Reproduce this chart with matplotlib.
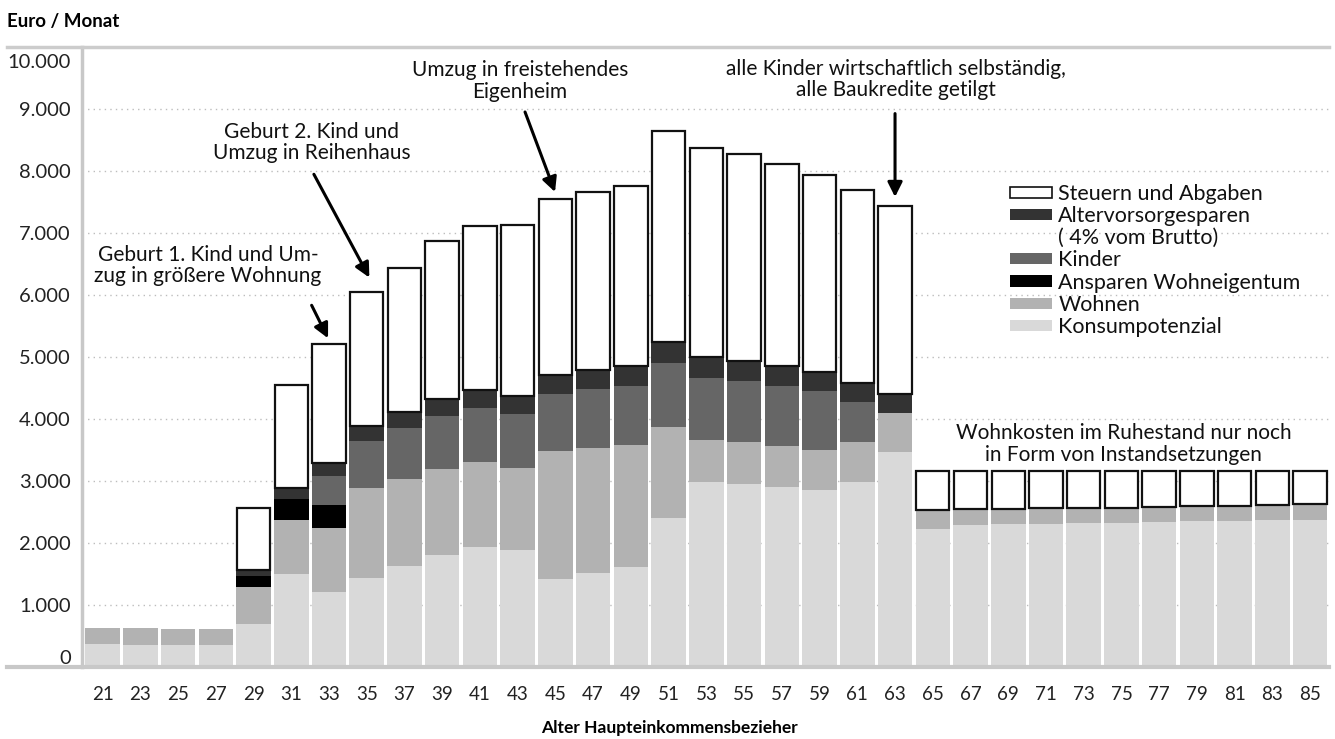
import matplotlib
matplotlib.use("Agg")
import matplotlib.pyplot as plt
from matplotlib.patches import Patch
import numpy as np

plt.rcParams['font.family'] = ['Lato', 'DejaVu Sans']

ages = list(range(21, 86, 2))

# Euro / Monat, Segmente von unten nach oben
konsum = [366, 350, 350, 350, 689, 1500, 1205, 1431, 1634, 1811, 1940, 1892, 1424, 1521, 1618, 2408,
          2989, 2955, 2901, 2854, 2982, 3468, 2226, 2285, 2301, 2301, 2317, 2317, 2333, 2349, 2349, 2366, 2366]
wohnen = [258, 274, 258, 258, 596, 866, 1032, 1451, 1403, 1388, 1371, 1323, 2065, 2016, 1968, 1468,
          677, 673, 660, 643, 644, 631, 312, 263, 253, 264, 248, 253, 248, 242, 253, 247, 258]
ansparen = [0, 0, 0, 0, 178, 339, 371, 0, 0, 0, 0, 0, 0, 0, 0, 0,
            0, 0, 0, 0, 0, 0, 0, 0, 0, 0, 0, 0, 0, 0, 0, 0, 0]
kinder = [0, 0, 0, 0, 0, 0, 468, 758, 812, 854, 871, 871, 919, 952, 951, 1032,
          1000, 982, 965, 947, 643, 0, 0, 0, 0, 0, 0, 0, 0, 0, 0, 0, 0]
alter = [0, 0, 0, 0, 108, 182, 214, 242, 258, 269, 280, 279, 296, 296, 312, 339,
         334, 322, 322, 310, 304, 305, 0, 0, 0, 0, 0, 0, 0, 0, 0, 0, 0]
steuern = [0, 0, 0, 0, 994, 1668, 1920, 2173, 2333, 2548, 2656, 2764, 2849, 2876, 2917, 3393,
           3377, 3343, 3257, 3188, 3123, 3035, 627, 617, 611, 600, 600, 595, 584, 574, 563, 552, 541]

series = [("Konsumpotenzial", konsum, "#d9d9d9"),
          ("Wohnen", wohnen, "#b2b2b2"),
          ("Ansparen Wohneigentum", ansparen, "#000000"),
          ("Kinder", kinder, "#666666"),
          ("Altervorsorgesparen", alter, "#333333")]

fig = plt.figure(figsize=(13.35, 7.39), dpi=100)
W, H = 1335, 739
ax = fig.add_axes([82 / W, 1 - 667 / H, (1329 - 82) / W, (667 - 47) / H])

x = np.array(ages)
bw = 1.83
bottom = np.zeros(len(ages))
for name, vals, col in series:
    ax.bar(x, vals, bw, bottom=bottom, color=col, linewidth=0, zorder=2)
    bottom += np.array(vals)
edge = ['#111111' if v > 0 else 'none' for v in steuern]
ax.bar(x, steuern, bw - 0.06, bottom=bottom, color='white', edgecolor=edge, linewidth=1.6, zorder=3)

ax.set_xlim(19.91, 86.0)
ax.set_ylim(0, 10000)
ax.set_xticks(ages)
ax.set_xticklabels([str(a) for a in ages], fontsize=13.5, color='#222222')
yt = list(range(0, 10001, 1000))
ylabels = [f"{v:,}".replace(",", ".") for v in yt]
ax.set_yticks(yt)
ax.set_yticklabels(ylabels[:-1] + [""], fontsize=14.5, color='#222222')
ax.tick_params(axis='both', length=0)
ax.tick_params(axis='x', pad=14)
ax.tick_params(axis='y', pad=8)
ticks = ax.yaxis.get_major_ticks()
ticks[0].label1.set_verticalalignment('bottom')
ax.annotate(ylabels[-1], xy=(0, yt[-1]), xycoords=('axes fraction', 'data'), xytext=(-8, -5),
            textcoords='offset points', ha='right', va='top', fontsize=14.5, color='#222222')

for v in yt[1:-1]:
    ax.axhline(v, color='#bdbdbd', lw=1, linestyle=(0, (1, 3)), zorder=1)
for s in ['top', 'right', 'bottom']:
    ax.spines[s].set_visible(False)
ax.spines['left'].set_color('#c8c8c8')
ax.spines['left'].set_linewidth(2.5)
ax.axhline(10000, xmin=-75 / 1247, xmax=1, color='#cccccc', lw=2.5, clip_on=False, zorder=4)
ax.axhline(0, xmin=-75 / 1247, xmax=1, color='#c8c8c8', lw=3, clip_on=False, zorder=4)

fig.text(7 / W, 1 - 22 / H, "Euro / Monat", fontsize=13.5, fontweight='bold', va='center', ha='left')
fig.text(669 / W, 1 - 728 / H, "Alter Haupteinkommensbezieher", fontsize=12.5, fontweight='bold',
         va='center', ha='center')

arrow = dict(arrowstyle='-|>', lw=2.2, color='black', mutation_scale=22, shrinkA=0, shrinkB=0)
txt = dict(fontsize=15, ha='center', va='center', color='#111111', linespacing=1.1)
ax.text(26.59, 6479, "Geburt 1. Kind und Um-\nzug in größere Wohnung", **txt)
ax.annotate("", xy=(32.95, 5302), xytext=(32.08, 5834), arrowprops=arrow)
ax.text(32.08, 8461, "Geburt 2. Kind und\nUmzug in Reihenhaus", **txt)
ax.annotate("", xy=(35.14, 6281), xytext=(32.20, 7947), arrowprops=arrow)
ax.text(43.12, 9455, "Umzug in freistehendes\nEigenheim", **txt)
ax.annotate("", xy=(44.98, 7661), xytext=(43.39, 8952), arrowprops=arrow)
ax.text(63.05, 9478, "alle Kinder wirtschaftlich selbständig,\nalle Baukredite getilgt", **txt)
ax.annotate("", xy=(63.0, 7581), xytext=(63.0, 8926), arrowprops=arrow)
ax.text(75.13, 3597, "Wohnkosten im Ruhestand nur noch\nin Form von Instandsetzungen", **txt)

handles = [Patch(facecolor='white', edgecolor='#111111', linewidth=1.2, label="Steuern und Abgaben"),
           Patch(facecolor='#333333', label="Altervorsorgesparen"),
           Patch(facecolor='none', edgecolor='none', label="( 4% vom Brutto)"),
           Patch(facecolor='#666666', label="Kinder"),
           Patch(facecolor='#000000', label="Ansparen Wohneigentum"),
           Patch(facecolor='#b2b2b2', label="Wohnen"),
           Patch(facecolor='#d9d9d9', label="Konsumpotenzial")]
leg = fig.legend(handles=handles, loc='upper left', bbox_to_anchor=(1010 / W, 1 - 184 / H),
                 frameon=False, fontsize=15.5, handlelength=1.95, handleheight=0.42,
                 handletextpad=0.3, labelspacing=0.1, borderpad=0, borderaxespad=0)
for t in leg.get_texts():
    t.set_color('#111111')

fig.savefig("out.png", dpi=100)
